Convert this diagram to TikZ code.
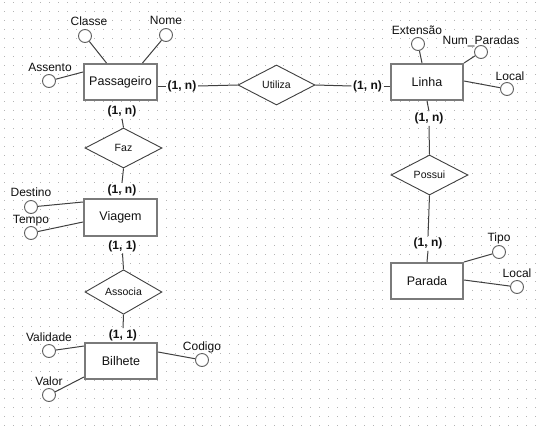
\documentclass[tikz,border=0pt]{standalone}
\usepackage{fontspec}
\setmainfont{Liberation Sans}
\usetikzlibrary{shapes.geometric}
\definecolor{entgray}{HTML}{7A7A7A}
\definecolor{linec}{HTML}{404040}
\definecolor{circc}{HTML}{606060}
\definecolor{dotc}{HTML}{B4B4B4}
\definecolor{txt}{HTML}{111111}
\tikzset{
  ent/.style={draw=entgray, line width=2pt, minimum width=73pt, minimum height=36pt, inner sep=0pt, fill=white, text=txt, font=\fontsize{12.5}{15}\selectfont},
  rel/.style={diamond, draw=linec, line width=0.9pt, minimum width=77pt, minimum height=40pt, inner sep=0pt, fill=white, text=txt, font=\fontsize{10.5}{12}\selectfont},
  attr/.style={circle, draw=circc, line width=0.9pt, minimum size=13pt, inner sep=0pt, fill=white},
  alabel/.style={font=\fontsize{12}{14}\selectfont, inner sep=0pt, text=txt, text height=9pt, text depth=2.5pt},
  card/.style={font=\bfseries\fontsize{12}{14}\selectfont, inner sep=1.5pt, text=txt},
  conn/.style={draw=linec, line width=1pt},
}
\begin{document}
\begin{tikzpicture}[x=1pt,y=-1pt]
\fill[white] (0,0) rectangle (543,426);
\useasboundingbox (0,0) rectangle (543,426);
% dot grid
\foreach \i in {0,...,60}{
  \foreach \j in {0,...,47}{
    \fill[dotc] (4+9*\i, 2.2+9*\j) rectangle +(1,1);
  }
}
% entities
\node[ent] (pas) at (120.5,82) {Passageiro};
\node[ent, minimum width=72pt] (lin) at (427,82) {Linha};
\node[ent, minimum height=37pt] (via) at (120.5,217.5) {Viagem};
\node[ent, minimum width=72pt] (par) at (427,281) {Parada};
\node[ent, minimum width=72pt] (bil) at (121,361) {Bilhete};
% relationships
\node[rel] (uti) at (276.5,85) {Utiliza};
\node[rel] (faz) at (123.5,148) {Faz};
\node[rel] (pos) at (429.5,175) {Possui};
\node[rel] (aso) at (123.5,292) {Associa};
% cardinalities
\node[card] (c1) at (182,86) {(1, n)};
\node[card] (c2) at (367.5,86) {(1, n)};
\node[card] (c3) at (122,111.5) {(1, n)};
\node[card] (c4) at (122,190) {(1, n)};
\node[card] (c5) at (122.5,246) {(1, 1)};
\node[card] (c6) at (123,335.5) {(1, 1)};
\node[card] (c7) at (429,118.5) {(1, n)};
\node[card] (c8) at (428,243.5) {(1, n)};
% relationship connectors
\draw[conn] (c1.west -| pas.east) -- (c1.west);
\draw[conn] (c1.east) -- (uti.west);
\draw[conn] (uti.east) -- (c2.west);
\draw[conn] (c2.east) -- (c2.east -| lin.west);
\draw[conn] (c3.south) -- (faz.north);
\draw[conn] (faz.south) -- (c4.north);
\draw[conn] (c5.south) -- (aso.north);
\draw[conn] (aso.south) -- (c6.north);
\draw[conn] (lin.south) -- (c7.north);
\draw[conn] (c7.south) -- (pos.north);
\draw[conn] (pos.south) -- (c8.north);
\draw[conn] (c8.south) -- (par.north);
% attributes
\node[attr] (aclasse) at (85,36) {};
\node[alabel] (lclasse) at (89,22) {Classe};
\node[attr] (anome) at (166,35) {};
\node[alabel] (lnome) at (166,21.5) {Nome};
\node[attr] (aassento) at (49,81) {};
\node[alabel] (lassento) at (50,68) {Assento};
\node[attr] (aext) at (418,44) {};
\node[alabel] (lext) at (417,31) {Extensão};
\node[attr] (anum) at (481,52) {};
\node[alabel] (lnum) at (481,41) {Num\_Paradas};
\node[attr] (alocal) at (507,89) {};
\node[alabel] (llocal) at (510,77) {Local};
\node[attr] (adest) at (31,207) {};
\node[alabel] (ldest) at (31,193) {Destino};
\node[attr] (atempo) at (31,233) {};
\node[alabel] (ltempo) at (31,220) {Tempo};
\node[attr] (atipo) at (499,252) {};
\node[alabel] (ltipo) at (499,238.5) {Tipo};
\node[attr] (alocalb) at (517,287) {};
\node[alabel] (llocalb) at (517,274) {Local};
\node[attr] (avalid) at (49,351) {};
\node[alabel] (lvalid) at (49,338) {Validade};
\node[attr] (avalor) at (49,395) {};
\node[alabel] (lvalor) at (49,382.5) {Valor};
\node[attr] (acod) at (202,360) {};
\node[alabel] (lcod) at (202,347) {Codigo};
% attribute connectors
\draw[conn] (aclasse) -- ([xshift=23.5pt]pas.north west);
\draw[conn] (anome) -- ([xshift=59.5pt]pas.north west);
\draw[conn] (aassento) -- ([yshift=-9pt]pas.north west);
\draw[conn] (aext) -- ([xshift=32pt]lin.north west);
\draw[conn] (anum) -- (lin.north east);
\draw[conn] (alocal) -- ([yshift=1pt]lin.east);
\draw[conn] (adest) -- ([yshift=-4pt]via.north west);
\draw[conn] (atempo) -- ([yshift=-4.5pt]via.west);
\draw[conn] (atipo) -- (par.north east);
\draw[conn] (alocalb) -- ([yshift=1pt]par.east);
\draw[conn] (avalid) -- ([yshift=-4pt]bil.north west);
\draw[conn] (avalor) -- ([yshift=3pt]bil.south west);
\draw[conn] (acod) -- ([yshift=9pt]bil.east);
\end{tikzpicture}
\end{document}
